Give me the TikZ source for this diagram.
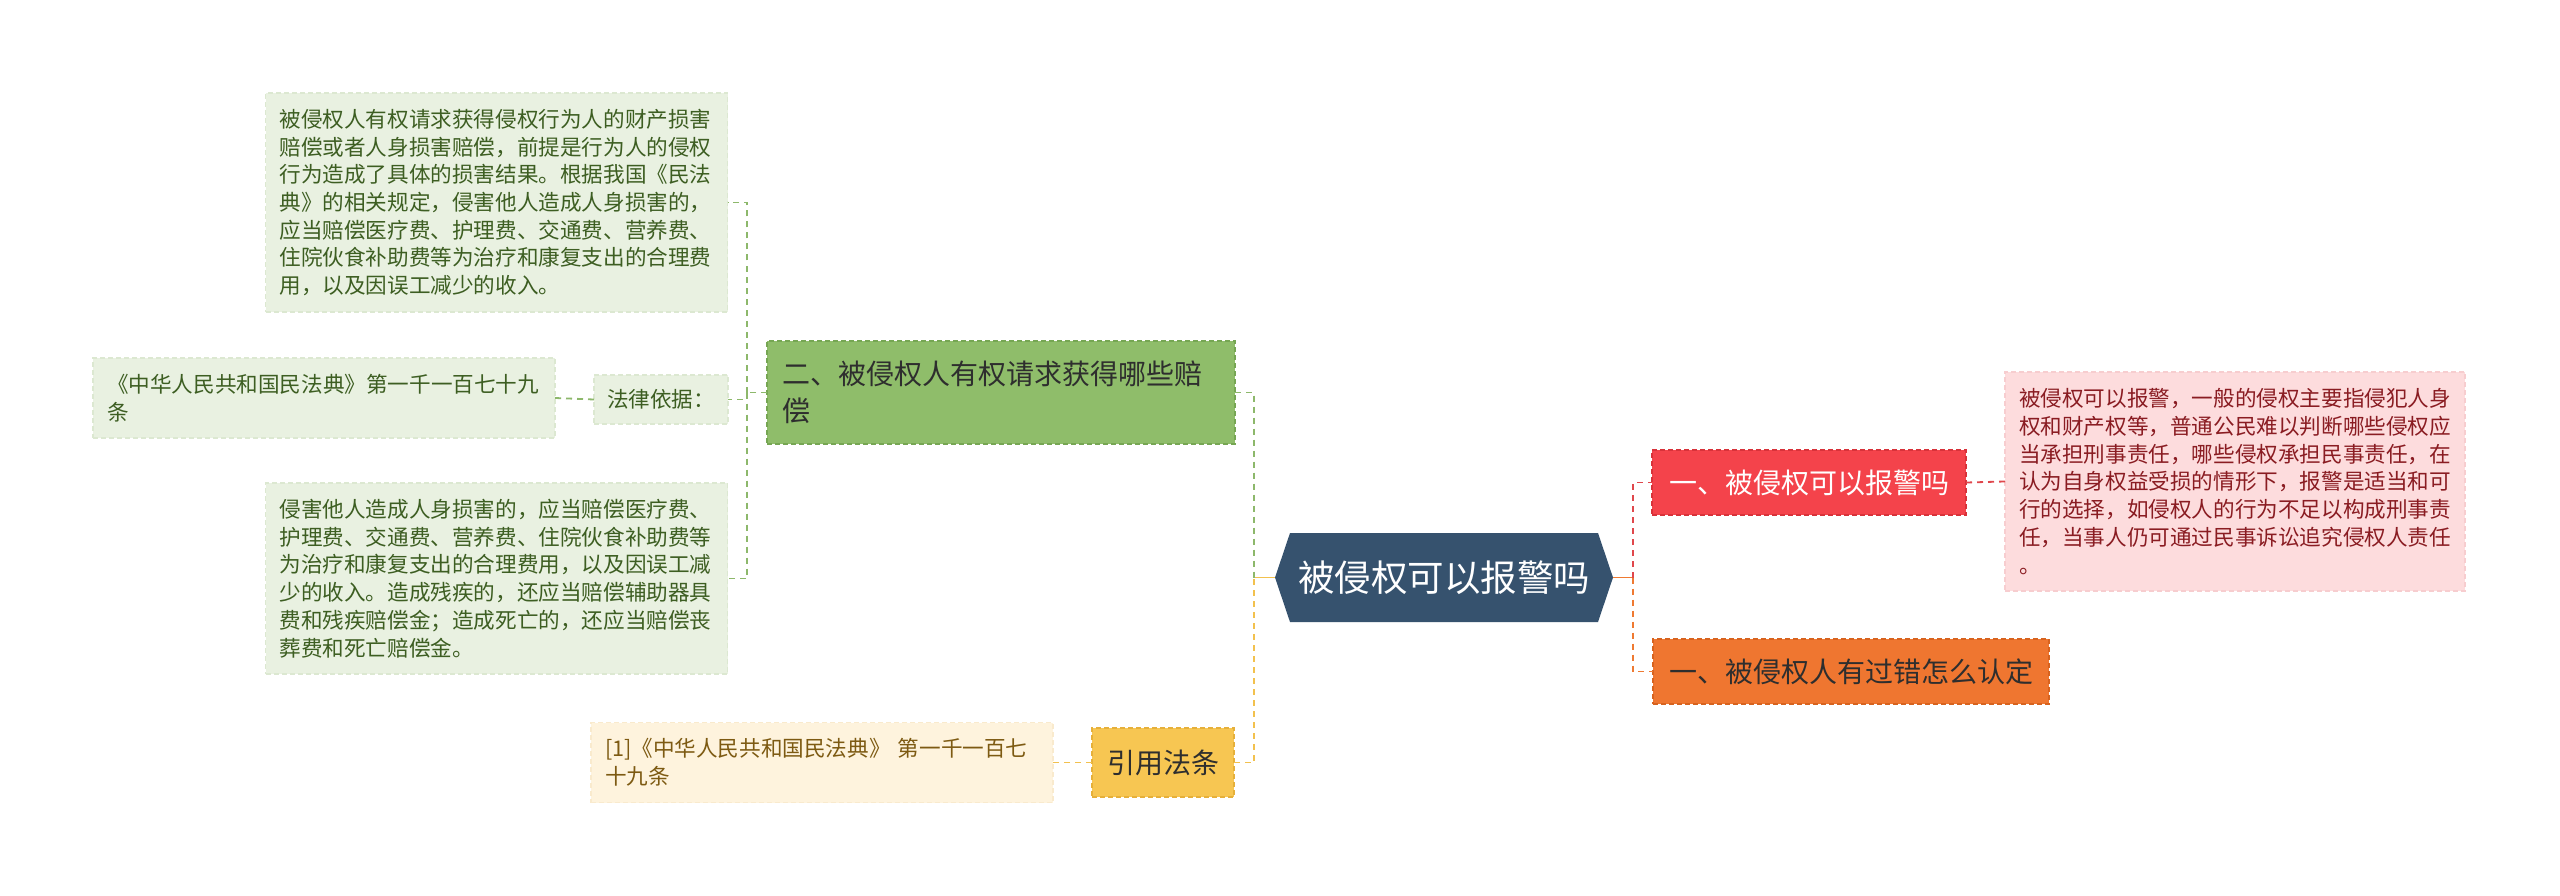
\documentclass[tikz,border=0pt]{standalone}
\usepackage{fontspec}
\setmainfont{Noto Sans CJK SC}
\definecolor{rootblue}{HTML}{36526E}
\definecolor{gmain}{HTML}{8FBD6A}
\definecolor{gmainb}{HTML}{76A653}
\definecolor{gleaf}{HTML}{E9F1E1}
\definecolor{gleafb}{HTML}{DCE8D1}
\definecolor{gleaft}{HTML}{3D5E22}
\definecolor{gline}{HTML}{8DB86B}
\definecolor{ymain}{HTML}{F7C652}
\definecolor{ymainb}{HTML}{E6B03A}
\definecolor{yleaf}{HTML}{FEF3DD}
\definecolor{yleafb}{HTML}{F9EACD}
\definecolor{yleaft}{HTML}{7D5A12}
\definecolor{yline}{HTML}{F2C14E}
\definecolor{rmain}{HTML}{F4434B}
\definecolor{rmainb}{HTML}{D8323A}
\definecolor{rleaf}{HTML}{FDDCDD}
\definecolor{rleafb}{HTML}{F7CDCF}
\definecolor{rleaft}{HTML}{8A1C22}
\definecolor{rline}{HTML}{E0474C}
\definecolor{omain}{HTML}{EF7630}
\definecolor{omainb}{HTML}{D7631F}
\definecolor{oline}{HTML}{EF7A32}
\definecolor{darktext}{HTML}{2E2E2E}
\newcommand\leaffont{\fontsize{21.6}{27.7}\selectfont}
\newcommand\mainfont{\fontsize{28}{37}\selectfont}
\begin{document}
\begin{tikzpicture}[x=1pt,y=-1pt,
  every node/.style={inner sep=0pt, outer sep=0pt},
  boxborder/.style={line width=1.4pt, dash pattern=on 5pt off 3pt},
  conn/.style={line width=1.8pt, dash pattern=on 6pt off 5pt},
  leafbox/.style={boxborder, font=\leaffont, align=left, inner xsep=14pt},
  gleafbox/.style={leafbox, fill=gleaf, draw=gleafb, text=gleaft},
  yleafbox/.style={leafbox, fill=yleaf, draw=yleafb, text=yleaft},
  rleafbox/.style={leafbox, fill=rleaf, draw=rleafb, text=rleaft},
  mainbox/.style={boxborder, font=\mainfont},
  rootbox/.style={minimum width=338pt, minimum height=89pt, fill=white, text=white,
    font=\fontsize{36.5}{40}\selectfont,
    path picture={\fill[rootblue]
      ([xshift=15pt]path picture bounding box.north west) --
      ([xshift=-15pt]path picture bounding box.north east) --
      (path picture bounding box.east) --
      ([xshift=-15pt]path picture bounding box.south east) --
      ([xshift=15pt]path picture bounding box.south west) --
      (path picture bounding box.west) -- cycle;}}
]
\path[use as bounding box, fill=white] (0,0) rectangle (2560,896);

% root
\node[rootbox] (root) at (1444,577.5) {被侵权可以报警吗};

% left: green branch
\node[mainbox, fill=gmain, draw=gmainb, text=darktext, align=left,
  text width=438pt, inner xsep=15pt, minimum height=103pt] (green) at (1001,392.5)
  {二、被侵权人有权请求获得哪些赔\\偿};
\node[gleafbox, text width=434pt, minimum height=219pt] (topleaf) at (496.5,202.5)
  {被侵权人有权请求获得侵权行为人的财产损害\\赔偿或者人身损害赔偿，前提是行为人的侵权\\行为造成了具体的损害结果。根据我国《民法\\典》的相关规定，侵害他人造成人身损害的，\\应当赔偿医疗费、护理费、交通费、营养费、\\住院伙食补助费等为治疗和康复支出的合理费\\用，以及因误工减少的收入。};
\node[gleafbox, align=center, inner xsep=0pt, minimum width=134pt, minimum height=49pt] (lawlabel) at (661,399.5)
  {法律依据：};
\node[gleafbox, text width=434pt, minimum height=80pt] (lawref) at (324,398)
  {《中华人民共和国民法典》第一千一百七十九\\条};
\node[gleafbox, text width=434pt, minimum height=191pt] (botleaf) at (496.5,578.5)
  {侵害他人造成人身损害的，应当赔偿医疗费、\\护理费、交通费、营养费、住院伙食补助费等\\为治疗和康复支出的合理费用，以及因误工减\\少的收入。造成残疾的，还应当赔偿辅助器具\\费和残疾赔偿金；造成死亡的，还应当赔偿丧\\葬费和死亡赔偿金。};

% left: yellow branch
\node[mainbox, fill=ymain, draw=ymainb, text=darktext, minimum width=142pt, minimum height=69pt] (yellow) at (1163,762.5)
  {引用法条};
\node[yleafbox, text width=434pt, minimum height=80pt] (cite) at (822,762.5)
  {[1]《中华人民共和国民法典》 第一千一百七\\十九条};

% right: red branch
\node[mainbox, fill=rmain, draw=rmainb, text=white, minimum width=314pt, minimum height=65pt] (red) at (1809,482.5)
  {一、被侵权可以报警吗};
\node[rleafbox, text width=432pt, minimum height=219pt] (pink) at (2235,481.5)
  {被侵权可以报警，一般的侵权主要指侵犯人身\\权和财产权等，普通公民难以判断哪些侵权应\\当承担刑事责任，哪些侵权承担民事责任，在\\认为自身权益受损的情形下，报警是适当和可\\行的选择，如侵权人的行为不足以构成刑事责\\任，当事人仍可通过民事诉讼追究侵权人责任\\。};

% right: orange branch
\node[mainbox, fill=omain, draw=omainb, text=darktext, minimum width=396pt, minimum height=65pt] (orange) at (1851,671.5)
  {一、被侵权人有过错怎么认定};

% junctions
\coordinate (lj) at (1254,577.5);
\coordinate (rj) at (1633,577.5);
\coordinate (gj) at (747,392.5);

% connectors
\draw[line width=1.8pt, yline] (root.west) -- (lj);
\draw[conn, gline] (green.east) -| (lj);
\draw[conn, yline] (yellow.east) -| (lj);
\draw[line width=1.8pt, oline] (root.east) -- (rj);
\draw[conn, rline] (rj) |- (red.west);
\draw[conn, oline] (rj) |- (orange.west);
\draw[conn, rline] (red.east) -- (pink.west);
\draw[conn, yline] (yellow.west) -- (cite.east);
\draw[conn, gline] (green.west) -- (gj);
\draw[conn, gline] (gj) |- (topleaf.east);
\draw[conn, gline] (gj) |- (lawlabel.east);
\draw[conn, gline] (gj) |- (botleaf.east);
\draw[conn, gline] (lawlabel.west) -- (lawref.east);
\end{tikzpicture}
\end{document}
